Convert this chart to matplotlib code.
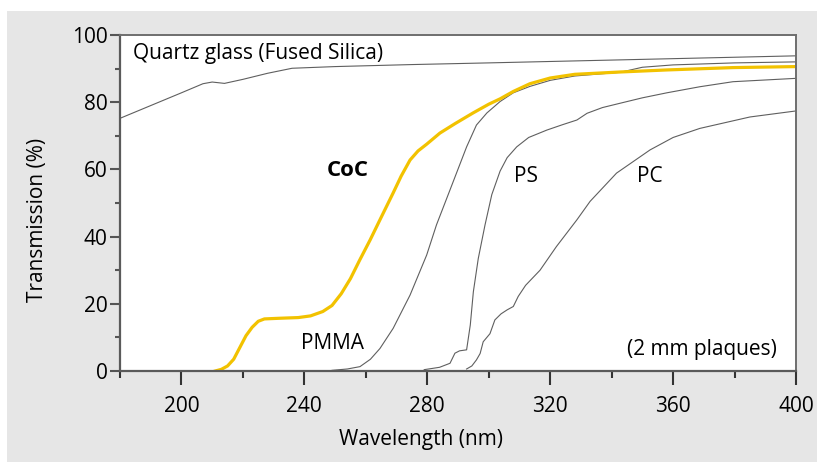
import matplotlib.pyplot as plt
from matplotlib.patches import Rectangle
from matplotlib.ticker import MultipleLocator

plt.rcParams["font.family"] = ["Open Sans", "DejaVu Sans"]

# transmission spectra (wavelength nm, transmission %)
wl_quartz = [180, 190, 200, 207, 210, 214, 220, 228, 236, 250, 275, 300, 343, 400]
t_quartz = [75.2, 79, 82.8, 85.5, 86, 85.6, 86.8, 88.6, 90.1, 90.6, 91.2, 91.7, 92.6, 93.8]

wl_coc = [211, 213, 215, 217, 219, 221, 223, 225, 227, 232, 238, 242, 246, 249, 252,
          255, 258, 261.4, 264.6, 268.9, 271.5, 274.4, 277, 279.8, 284.1, 289, 294.9,
          300, 303.7, 308, 313.4, 320, 328, 343, 358, 379.5, 400]
t_coc = [0, 0.5, 1.5, 3.5, 7, 10.5, 13, 14.8, 15.5, 15.7, 15.9, 16.4, 17.7, 19.5, 23,
         27.5, 33, 39, 45, 53, 58, 62.8, 65.5, 67.5, 70.8, 73.6, 76.8,
         79.4, 81.0, 83.2, 85.5, 87.2, 88.3, 89, 89.6, 90.3, 90.6]

wl_pmma = [249, 254, 258.1, 261.5, 264.6, 268.9, 274.4, 279.8, 283, 287.4, 292.8,
           296, 299.4, 303.7, 308, 313.4, 320, 328, 342.8, 350, 360, 380, 400]
t_pmma = [0.2, 0.6, 1.3, 3.5, 6.7, 12.7, 22.6, 34.5, 43.5, 53.9, 66.7,
          73.2, 76.8, 80.2, 82.8, 84.7, 86.5, 87.8, 88.9, 90.4, 91.1, 91.7, 92]

wl_ps = [279, 284, 287.4, 289, 290.5, 292.8, 294, 295, 296.6, 298.8, 301, 303.7,
         306, 309.1, 313, 318.9, 324, 328.7, 332, 337, 342.8, 350, 358, 368.7,
         379.5, 400]
t_ps = [0.4, 1.1, 2.3, 5.3, 6, 6.3, 13.7, 23.6, 33.5, 43.5, 52.5, 59.5,
        63.5, 66.7, 69.5, 71.7, 73.3, 74.7, 76.7, 78.4, 79.7, 81.3, 82.8, 84.6,
        86.1, 87.1]

wl_pc = [292.8, 294.5, 296, 297.2, 298.2, 300.4, 302, 304, 306, 308, 309.6, 312,
         316.7, 322, 328.7, 333, 341.6, 352.5, 360, 368.7, 385, 400]
t_pc = [0.6, 1.5, 3.3, 5.2, 8.7, 11.1, 15.2, 17, 18.2, 19.2, 22.2, 25.5,
        30, 37, 45, 50.5, 58.9, 65.8, 69.5, 72.2, 75.6, 77.4]

fig = plt.figure(figsize=(8.17, 4.62), dpi=100)
# grey panel behind the chart (white strip at top and left)
fig.patches.append(Rectangle((7 / 817, 0), 1, 451 / 462, transform=fig.transFigure,
                             facecolor="#e6e6e6", edgecolor="none", zorder=-1))
ax = fig.add_axes([120 / 817, 91 / 462, 676 / 817, 336 / 462])
ax.set_zorder(1)
ax.set_facecolor("white")

gray = "#5f5f5f"
ax.plot(wl_quartz, t_quartz, color=gray, lw=0.8)
ax.plot(wl_pmma, t_pmma, color=gray, lw=0.8)
ax.plot(wl_ps, t_ps, color=gray, lw=0.8)
ax.plot(wl_pc, t_pc, color=gray, lw=0.8)
ax.plot(wl_coc, t_coc, color="#f2c200", lw=2.3)

ax.set_xlim(180, 400)
ax.set_ylim(0, 100)
ax.set_xticks([200, 240, 280, 320, 360, 400])
ax.xaxis.set_minor_locator(MultipleLocator(40, offset=20))
ax.yaxis.set_major_locator(MultipleLocator(20))
ax.yaxis.set_minor_locator(MultipleLocator(10))
ax.tick_params(axis="x", which="major", direction="out", length=10, width=1.5,
               color="#333333", labelsize=15, pad=8)
ax.tick_params(axis="x", which="minor", direction="out", length=5, width=1.5,
               color="#333333")
ax.tick_params(axis="y", which="major", direction="out", length=7, width=1.5,
               color="#555555", labelsize=15, pad=2)
ax.tick_params(axis="y", which="minor", direction="out", length=3.5, width=1.5,
               color="#555555")

for side in ["left", "bottom"]:
    ax.spines[side].set_color("#5a5a5a")
    ax.spines[side].set_linewidth(1.6)
for side in ["top", "right"]:
    ax.spines[side].set_color("#6e6e6e")
    ax.spines[side].set_linewidth(1.4)

fig.text(421 / 817, 1 - 440 / 462, "Wavelength (nm)", ha="center", va="center", fontsize=15)
fig.text(38 / 817, 1 - 220 / 462, "Transmission (%)", ha="center", va="center",
         rotation=90, fontsize=15)

ax.text(184.2, 94.6, "Quartz glass (Fused Silica)", ha="left", va="center", fontsize=15)
ax.text(254.2, 59.8, "CoC", ha="center", va="center", fontsize=16, fontweight="bold")
ax.text(312.1, 57.8, "PS", ha="center", va="center", fontsize=15)
ax.text(352.3, 58, "PC", ha="center", va="center", fontsize=15)
ax.text(249.1, 8.3, "PMMA", ha="center", va="center", fontsize=15)
ax.text(393.8, 6.5, "(2 mm plaques)", ha="right", va="center", fontsize=15)

fig.savefig("out.png", dpi=100, facecolor="white")
